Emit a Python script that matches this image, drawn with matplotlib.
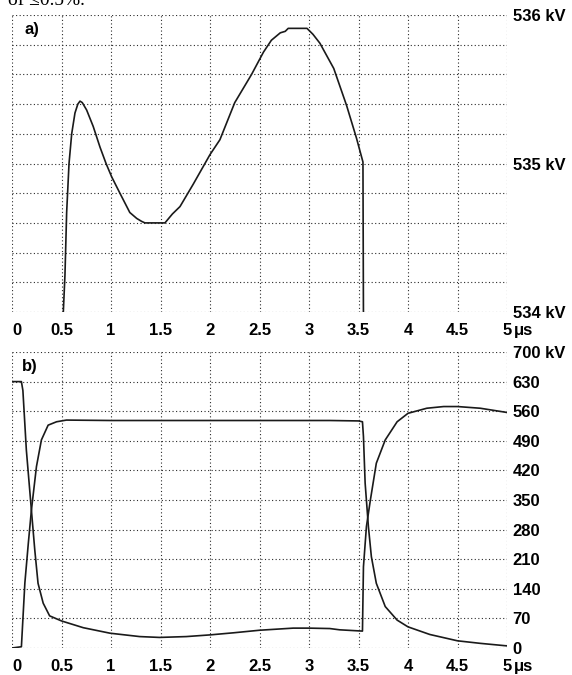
import numpy as np
import matplotlib
matplotlib.use('Agg')
import matplotlib.pyplot as plt

plt.rcParams['font.family'] = ['Liberation Sans', 'DejaVu Sans']
plt.rcParams['font.weight'] = 'bold'
plt.rcParams['font.size'] = 12

# a) voltage detail (kV) vs time (us)
t_a = [0.515, 0.525, 0.535, 0.552, 0.576, 0.603, 0.636, 0.665, 0.687, 0.71, 0.754,
       0.82, 0.889, 0.95, 1.007, 1.09, 1.19, 1.26, 1.31, 1.343, 1.545, 1.62, 1.697,
       1.83, 2.0, 2.10, 2.25, 2.42, 2.54, 2.62, 2.71, 2.76, 2.79, 2.98, 3.04, 3.11,
       3.25, 3.38, 3.48, 3.545, 3.55]
v_a = [533.95, 534.1, 534.25, 534.67, 535.0, 535.2, 535.34, 535.4, 535.42, 535.41, 535.36,
       535.25, 535.11, 535.0, 534.91, 534.8, 534.67, 534.63, 534.61, 534.6, 534.6, 534.66, 534.71,
       534.86, 535.06, 535.16, 535.41, 535.6, 535.75, 535.83, 535.88, 535.89, 535.91, 535.91, 535.87, 535.81,
       535.64, 535.39, 535.17, 535.01, 533.95]

# b) two switching voltages (kV)
t_b1 = [0, 0.095, 0.11, 0.145, 0.196, 0.23, 0.263, 0.315, 0.38, 0.5, 0.72, 0.99, 1.29,
        1.49, 1.76, 2.0, 2.24, 2.5, 2.84, 3.0, 3.21, 3.31, 3.54, 3.55, 3.58, 3.62, 3.68,
        3.77, 3.89, 4.0, 4.19, 4.36, 4.5, 4.73, 5.0]
v_b1 = [630, 630, 609, 468, 326, 232, 153, 106, 76, 64, 48, 35, 27,
        25, 27, 31, 36, 42, 47, 47, 46, 43, 40, 192, 287, 350, 437,
        492, 535, 555, 567, 571, 571, 567, 557]
t_b2 = [0, 0.095, 0.13, 0.165, 0.196, 0.247, 0.297, 0.365, 0.45, 0.55, 1.0, 2.0, 3.21,
        3.5, 3.54, 3.55, 3.567, 3.6, 3.63, 3.68, 3.77, 3.89, 4.0, 4.22, 4.5, 4.73, 5.0]
v_b2 = [0, 3, 154, 248, 326, 429, 492, 527, 535, 539, 538, 538, 538,
        537, 535, 500, 390, 287, 216, 153, 98, 66, 50, 32, 17, 11, 5]

x_ticks = np.arange(0, 5.01, 0.5)
x_labels = ['0', '0.5', '1', '1.5', '2', '2.5', '3', '3.5', '4', '4.5', '5']
ya_ticks = np.arange(534, 536.01, 0.2)
ya_labels = ['534 kV', '', '', '', '', '535 kV', '', '', '', '', '536 kV']
yb_ticks = np.arange(0, 701, 70)
yb_labels = ['0', '70', '140', '210', '280', '350', '420', '490', '560', '630', '700 kV']

fig = plt.figure(figsize=(5.72, 6.75), dpi=100)
ax1 = fig.add_axes([12/572, 1-312/675, 495/572, 297/675])
ax2 = fig.add_axes([12/572, 1-648/675, 495/572, 296/675])

line_kw = dict(color='#1a1a1a', lw=1.2)
ax1.plot(t_a, v_a, **line_kw)
ax2.plot(t_b1, v_b1, **line_kw)
ax2.plot(t_b2, v_b2, **line_kw)

ax1.set_ylim(534, 536)
ax1.set_yticks(ya_ticks)
ax1.set_yticklabels(ya_labels)
ax2.set_ylim(0, 700)
ax2.set_yticks(yb_ticks)
ax2.set_yticklabels(yb_labels)

for ax in (ax1, ax2):
    ax.set_xlim(0, 5)
    ax.set_xticks(x_ticks)
    ax.set_xticklabels(x_labels)
    ax.get_xticklabels()[0].set_ha('left')
    ax.yaxis.tick_right()
    ax.tick_params(length=0, pad=8, axis='x')
    ax.tick_params(length=0, pad=4, axis='y')
    ax.grid(True, color='#2b2b2b', lw=0.8, linestyle=(0, (1, 2.2)))
    for s in ax.spines.values():
        s.set_visible(False)
    ax.annotate('\u03bcs', xy=(1, 0), xycoords='axes fraction', xytext=(5, -8),
                textcoords='offset points', ha='left', va='top')

ax1.text(0.026, 0.95, 'a)', transform=ax1.transAxes, va='center', ha='left')
ax2.text(0.02, 0.95, 'b)', transform=ax2.transAxes, va='center', ha='left')

# leftover line of page text, cut at the top edge like in the source
fig.text(0.014, 1 - 5/675, 'of \u22640.5%.', family=['Liberation Serif', 'DejaVu Serif'],
         fontsize=14, fontweight='normal', va='baseline', ha='left')

fig.savefig('out.png', dpi=100)
